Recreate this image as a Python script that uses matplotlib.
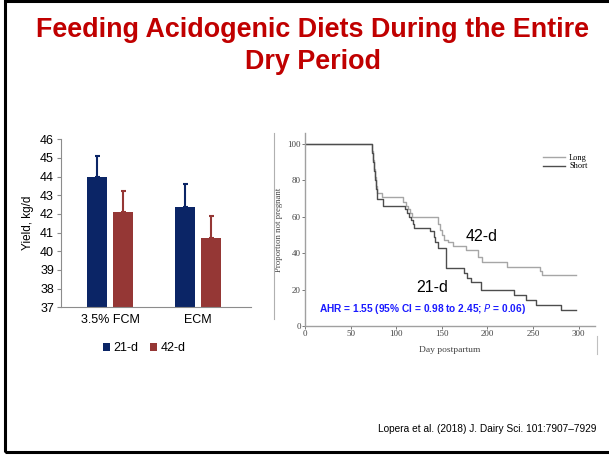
import matplotlib
matplotlib.use("Agg")
import matplotlib.pyplot as plt
from matplotlib.patches import Rectangle, Patch
from matplotlib.lines import Line2D

# ---------------- data ----------------
categories = ["3.5% FCM", "ECM"]
series_names = ["21-d", "42-d"]
yield_21d = [44.0, 42.4]
yield_42d = [42.1, 40.7]
err_21d = [1.1, 1.2]
err_42d = [1.15, 1.2]
yield_ticks = [37, 38, 39, 40, 41, 42, 43, 44, 45, 46]

# Kaplan-Meier step data (day, % not pregnant after event)
long_days = [0, 74, 75, 76, 77, 78, 79, 84, 108, 111, 113, 115, 117, 146, 148, 150, 152,
             157, 162, 177, 190, 194, 221, 258, 260, 297]
long_vals = [100, 96, 91, 86, 82, 77, 73, 71, 68, 66, 64, 62, 60, 56, 53, 50, 47,
             46, 44, 42, 38, 35, 32.5, 30, 28, 28]
short_days = [0, 74, 75, 76, 77, 78, 79, 85, 110, 112, 114, 116, 118, 120, 137, 141, 143,
              146, 155, 174, 178, 182, 193, 229, 242, 253, 281, 297]
short_vals = [100, 95, 90, 85, 80, 75, 70, 66, 64, 62, 60, 58, 56, 54, 52, 49, 46,
              43, 32, 29, 26.5, 24, 19.5, 17, 14.3, 11.5, 8.8, 8.8]
km_xticks = [0, 50, 100, 150, 200, 250, 300]
km_yticks = [0, 20, 40, 60, 80, 100]

title_lines = ["Feeding Acidogenic Diets During the Entire", "Dry Period"]
citation = "Lopera et al. (2018) J. Dairy Sci. 101:7907\u20137929"
ahr_text = "AHR = 1.55 (95% CI = 0.98 to 2.45; $\\mathbf{\\mathit{P}}$ = 0.06)"

W, H = 609, 455
NAVY = "#0b2566"
RED = "#953735"

fig = plt.figure(figsize=(W / 100, H / 100), dpi=100)
fig.patch.set_facecolor("white")

def fx(px):
    return px / W

def fy(py):
    return 1 - py / H

# slide frame
fig.add_artist(Rectangle((fx(4.5), fy(451.5)), fx(640), fy(1.2) - fy(451.5),
                         transform=fig.transFigure, fill=False, edgecolor="black",
                         linewidth=2.2, zorder=0))

for line, ypx in zip(title_lines, [30, 62]):
    fig.text(fx(313), fy(ypx), line, ha="center", va="center", color="#C00000",
             fontsize=19.4, fontweight="bold", family="Liberation Sans")

fig.text(fx(596), fy(429), citation, ha="right", va="center", fontsize=7.3,
         family="Liberation Sans", color="black")

# ---------------- bar chart ----------------
ax = fig.add_axes([fx(61), fy(307.3), fx(250.7) - fx(61), fy(139.3) - fy(307.3)])
x = [0, 1]
off = 0.148
bw = 0.227
xs1 = [v - off for v in x]
xs2 = [v + off for v in x]
ax.bar(xs1, yield_21d, width=bw, color=NAVY, bottom=0, zorder=2)
ax.bar(xs2, yield_42d, width=bw, color=RED, bottom=0, zorder=2)
ax.errorbar(xs1, yield_21d, yerr=[[0, 0], err_21d], fmt="none", ecolor=NAVY,
            elinewidth=1.5, capsize=1.8, capthick=1.5, zorder=3)
ax.errorbar(xs2, yield_42d, yerr=[[0, 0], err_42d], fmt="none", ecolor=RED,
            elinewidth=1.5, capsize=1.8, capthick=1.5, zorder=3)
ax.set_ylim(37, 46)
ax.set_xlim(-0.557, 1.6)
ax.set_yticks(yield_ticks)
ax.set_xticks(x)
ax.set_xticklabels(categories)
for s in ["top", "right"]:
    ax.spines[s].set_visible(False)
for s in ["left", "bottom"]:
    ax.spines[s].set_color("#8c8c8c")
    ax.spines[s].set_linewidth(0.8)
ax.tick_params(axis="y", direction="out", length=3, width=0.8, color="#8c8c8c",
               labelsize=9, pad=2)
ax.tick_params(axis="x", length=0, labelsize=9, pad=5)
for lab in ax.get_xticklabels() + ax.get_yticklabels():
    lab.set_family("Liberation Sans")
ax.set_ylabel("Yield, kg/d", fontsize=8.5, family="Liberation Sans", labelpad=4)
ax.set_facecolor("none")

handles = [Patch(facecolor=NAVY), Patch(facecolor=RED)]
fig.legend(handles, series_names, loc="center", bbox_to_anchor=(fx(144), fy(348)),
           ncol=2, frameon=False, handlelength=0.6, handleheight=0.6,
           handletextpad=0.25, columnspacing=0.9,
           prop={"family": "Liberation Sans", "size": 9})

# ---------------- KM chart ----------------
ax2 = fig.add_axes([fx(305), fy(326), fx(595) - fx(305), fy(133) - fy(326)])
ax2.step(long_days, long_vals, where="post", color="#a6a6a6", linewidth=1.0, label="Long")
ax2.step(short_days, short_vals, where="post", color="#4d4d4d", linewidth=1.0, label="Short")
ax2.set_xlim(0, 318)
ax2.set_ylim(0, 106)
ax2.set_xticks(km_xticks)
ax2.set_yticks(km_yticks)
for s in ["top", "right"]:
    ax2.spines[s].set_visible(False)
for s in ["left", "bottom"]:
    ax2.spines[s].set_color("#a0a0a0")
    ax2.spines[s].set_linewidth(1.0)
ax2.tick_params(direction="out", length=2, width=0.7, color="#777777",
                labelsize=6.5, labelcolor="#444444", pad=1)
for lab in ax2.get_xticklabels() + ax2.get_yticklabels():
    lab.set_family("Liberation Serif")
ax2.set_xlabel("Day postpartum", fontsize=6.8, family="Liberation Serif",
               color="#444444", labelpad=6)
ax2.set_ylabel("Proportion not pregnant", fontsize=6.3, family="Liberation Serif",
               color="#444444", labelpad=3)
ax2.legend(loc="upper right", bbox_to_anchor=(1.0, 0.93), frameon=False,
           handlelength=2.6, handletextpad=0.5, labelspacing=0.05,
           prop={"family": "Liberation Serif", "size": 6})
ax2.set_facecolor("none")

ax2.text(194, 49, "42-d", fontsize=11.5, family="Liberation Sans", ha="center", va="center")
ax2.text(140, 21, "21-d", fontsize=11.5, family="Liberation Sans", ha="center", va="center")
ax2.text(128.5, 9.3, ahr_text, fontsize=7.3, family="Liberation Sans", fontweight="bold",
         color="#1a1aff", ha="center", va="center")

# image-edge artefacts of the pasted figure
fig.add_artist(Line2D([fx(274), fx(274)], [fy(319), fy(133)], transform=fig.transFigure,
                      color="#b0b0b0", linewidth=0.8))
fig.add_artist(Line2D([fx(596.5), fx(596.5)], [fy(354), fy(336)], transform=fig.transFigure,
                      color="#c0c0c0", linewidth=0.8))

fig.savefig("out.png", dpi=100, facecolor="white")
